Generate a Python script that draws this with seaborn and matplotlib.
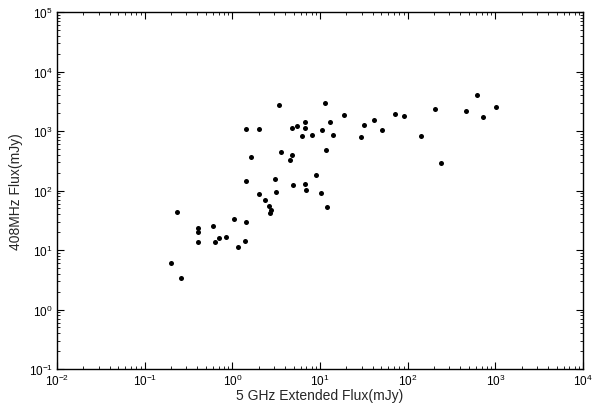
import matplotlib
matplotlib.use("Agg")
import matplotlib.pyplot as plt
import seaborn as sns
import numpy as np
import pandas as pd
from matplotlib.ticker import LogLocator, LogFormatterSciNotation, NullFormatter

# 5 GHz extended flux (mJy)
flux_5ghz = [0.20, 0.234, 0.26, 0.405, 0.405, 0.405, 0.60, 0.63, 0.70, 0.85,
             1.04, 1.16, 1.39, 1.43, 1.43, 1.43, 1.63, 2.01, 2.01, 2.36,
             2.62, 2.76, 2.69, 3.07, 3.15, 3.41, 3.59, 4.55, 4.80, 4.92,
             4.80, 5.47, 6.75, 6.75, 6.24, 6.75, 6.92, 8.1, 9.0, 10.3,
             10.5, 11.4, 11.7, 12.0, 13.0, 14.1, 18.8, 29.4, 31.8, 41.3,
             51.0, 71.6, 90.8, 142, 205, 240, 462, 618, 723, 1016]
# 408 MHz flux (mJy)
flux_408 = [6.05, 43.5, 3.4, 23.4, 20.1, 13.6, 25.3, 13.6, 15.9, 16.5,
            33.2, 11.2, 14.2, 29.6, 144, 1080, 366, 1080, 87, 69,
            55, 47, 41.9, 156, 94, 2735, 444, 326, 395, 124,
            1122, 1213, 1416, 1122, 824, 128, 102, 857, 182, 91,
            1040, 2955, 480, 53, 1416, 857, 1858, 793, 1262, 1531,
            1040, 1932, 1786, 824, 2344, 290, 2168, 4027, 1718, 2530]

sns.set_style("white")
plt.rcParams['font.family'] = ['Liberation Sans', 'DejaVu Sans']
plt.rcParams['mathtext.fontset'] = 'custom'
plt.rcParams['mathtext.rm'] = 'Liberation Sans'
plt.rcParams['mathtext.it'] = 'Liberation Sans'

df = pd.DataFrame({"x": flux_5ghz, "y": flux_408})

fig = plt.figure(figsize=(6.05, 4.10), dpi=100)
ax = fig.add_axes([57/605, 40/410, 526/605, 357/410])
sns.scatterplot(data=df, x="x", y="y", ax=ax, color="black", s=13,
                edgecolor="black", linewidth=0, legend=False)
ax.set_xscale("log")
ax.set_yscale("log")
ax.set_xlim(1e-2, 1e4)
ax.set_ylim(1e-1, 1e5)

for axis in (ax.xaxis, ax.yaxis):
    axis.set_major_locator(LogLocator(base=10, numticks=20))
    axis.set_minor_locator(LogLocator(base=10, subs=np.arange(2, 10), numticks=100))
    axis.set_major_formatter(LogFormatterSciNotation())
    axis.set_minor_formatter(NullFormatter())

ax.tick_params(which="both", direction="in", bottom=True, left=True,
               top=True, right=True, colors="black", labelsize=8.5)
ax.tick_params(which="major", length=5, width=0.8, pad=3)
ax.tick_params(which="minor", length=2.5, width=0.6)
for sp in ax.spines.values():
    sp.set_visible(True)
    sp.set_color("black")
    sp.set_linewidth(1.0)

ax.set_xlabel("5 GHz Extended Flux(mJy)", fontsize=10, labelpad=0)
ax.set_ylabel("408MHz Flux(mJy)", fontsize=10, labelpad=4)

fig.savefig("out.png", dpi=100, facecolor="white")
